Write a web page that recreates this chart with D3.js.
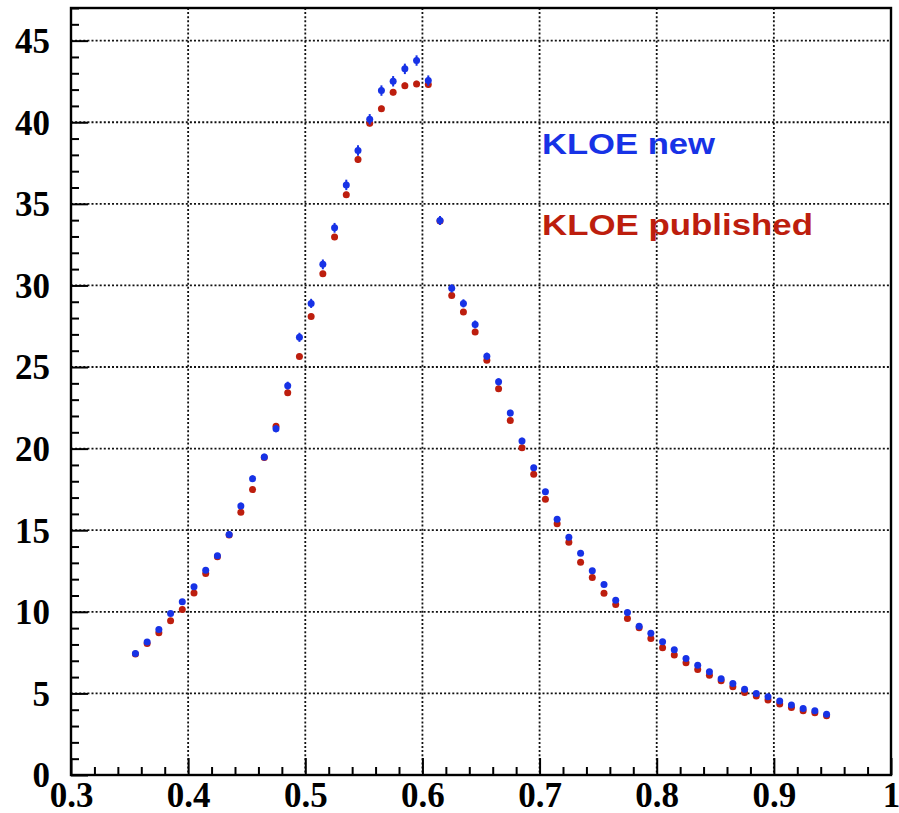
<!DOCTYPE html>
<html>
<head>
<meta charset="utf-8">
<script src="https://cdn.jsdelivr.net/npm/d3@7"></script>
<style>
  html, body { margin: 0; padding: 0; background: #fff; }
  svg { display: block; }
</style>
</head>
<body>
<svg id="chart" width="899" height="813"></svg>
<script>
// Bin centres (GeV) of the mass spectrum
const massBins = [
  0.355, 0.365, 0.375, 0.385, 0.395, 0.405, 0.415, 0.425, 0.435, 0.445,
  0.455, 0.465, 0.475, 0.485, 0.495, 0.505, 0.515, 0.525, 0.535, 0.545,
  0.555, 0.565, 0.575, 0.585, 0.595, 0.605, 0.615, 0.625, 0.635, 0.645,
  0.655, 0.665, 0.675, 0.685, 0.695, 0.705, 0.715, 0.725, 0.735, 0.745,
  0.755, 0.765, 0.775, 0.785, 0.795, 0.805, 0.815, 0.825, 0.835, 0.845,
  0.855, 0.865, 0.875, 0.885, 0.895, 0.905, 0.915, 0.925, 0.935, 0.945
];

// KLOE new analysis
const kloeNew = [
  7.45, 8.15, 8.92, 9.90, 10.61, 11.53, 12.55, 13.43, 14.73, 16.49,
  18.16, 19.49, 21.22, 23.86, 26.82, 28.90, 31.29, 33.53, 36.16, 38.27,
  40.18, 41.94, 42.51, 43.27, 43.78, 42.55, 33.98, 29.82, 28.90, 27.61,
  25.66, 24.09, 22.18, 20.46, 18.82, 17.35, 15.67, 14.57, 13.59, 12.51,
  11.67, 10.71, 9.96, 9.12, 8.69, 8.16, 7.67, 7.14, 6.73, 6.33,
  5.90, 5.61, 5.25, 5.00, 4.80, 4.53, 4.29, 4.08, 3.94, 3.73
];
const kloeNewErr = [
  0.12, 0.12, 0.12, 0.12, 0.12, 0.14, 0.14, 0.14, 0.15, 0.20,
  0.20, 0.20, 0.22, 0.24, 0.28, 0.28, 0.30, 0.30, 0.32, 0.32,
  0.32, 0.32, 0.32, 0.32, 0.32, 0.32, 0.28, 0.25, 0.25, 0.24,
  0.22, 0.22, 0.20, 0.20, 0.18, 0.18, 0.16, 0.16, 0.15, 0.14,
  0.13, 0.12, 0.12, 0.11, 0.11, 0.10, 0.10, 0.10, 0.10, 0.09,
  0.09, 0.09, 0.08, 0.08, 0.08, 0.08, 0.08, 0.07, 0.07, 0.07
];

// KLOE published result
const kloePublished = [
  7.42, 8.06, 8.71, 9.45, 10.14, 11.16, 12.35, 13.38, 14.70, 16.10,
  17.49, 19.45, 21.37, 23.42, 25.65, 28.10, 30.71, 32.96, 35.55, 37.71,
  39.94, 40.82, 41.84, 42.24, 42.35, 42.31, 33.95, 29.39, 28.37, 27.14,
  25.41, 23.67, 21.73, 20.06, 18.43, 16.90, 15.40, 14.27, 13.04, 12.10,
  11.14, 10.45, 9.59, 9.02, 8.37, 7.80, 7.35, 6.88, 6.47, 6.12,
  5.78, 5.41, 5.06, 4.84, 4.59, 4.35, 4.14, 3.94, 3.82, 3.63
];
const kloePublishedErr = [
  0.08, 0.08, 0.08, 0.08, 0.08, 0.09, 0.09, 0.09, 0.10, 0.12,
  0.12, 0.12, 0.13, 0.14, 0.16, 0.16, 0.18, 0.18, 0.19, 0.19,
  0.19, 0.19, 0.19, 0.19, 0.19, 0.19, 0.17, 0.15, 0.15, 0.14,
  0.13, 0.13, 0.12, 0.12, 0.11, 0.11, 0.10, 0.10, 0.09, 0.09,
  0.08, 0.08, 0.08, 0.07, 0.07, 0.07, 0.07, 0.06, 0.06, 0.06,
  0.06, 0.06, 0.05, 0.05, 0.05, 0.05, 0.05, 0.05, 0.05, 0.05
];

const xTickLabels = ["0.3", "0.4", "0.5", "0.6", "0.7", "0.8", "0.9", "1"];
const yTickLabels = ["0", "5", "10", "15", "20", "25", "30", "35", "40", "45"];
const legendLabels = ["KLOE new", "KLOE published"];

const xTicks = xTickLabels.map(Number);
const yTicks = yTickLabels.map(Number);

const BLUE = "#1732e6";
const RED = "#bd1e0e";

const frame = { left: 71, right: 891, top: 8, bottom: 775 };

const x = d3.scaleLinear().domain([0.3, 1.0]).range([frame.left, frame.right]);
const y = d3.scaleLinear().domain([0, 47]).range([frame.bottom, frame.top]);

const svg = d3.select("#chart");

// Dotted grid at the major ticks
const grid = svg.append("g")
  .attr("stroke", "#111")
  .attr("stroke-width", 1.8)
  .attr("stroke-dasharray", "2,2.1");
grid.selectAll("line.gx")
  .data(xTicks.filter(v => v > 0.3 && v < 1.0))
  .join("line")
  .attr("class", "gx")
  .attr("x1", d => x(d)).attr("x2", d => x(d))
  .attr("y1", frame.top).attr("y2", frame.bottom);
grid.selectAll("line.gy")
  .data(yTicks.filter(v => v > 0))
  .join("line")
  .attr("class", "gy")
  .attr("x1", frame.left).attr("x2", frame.right)
  .attr("y1", d => y(d)).attr("y2", d => y(d));

// Axes with inward ticks (major + minor)
const xAxisMinor = d3.axisBottom(x)
  .tickValues(d3.range(0.32, 1.0, 0.02).filter(v => Math.abs(v * 10 - Math.round(v * 10)) > 1e-6))
  .tickSize(-8).tickFormat("");
const xAxisMajor = d3.axisBottom(x)
  .tickValues(xTicks).tickSize(-17).tickPadding(7)
  .tickFormat((d, i) => xTickLabels[i]);
const yAxisMinor = d3.axisLeft(y)
  .tickValues(d3.range(1, 48, 1).filter(v => v % 5 !== 0))
  .tickSize(-8).tickFormat("");
const yAxisMajor = d3.axisLeft(y)
  .tickValues(yTicks).tickSize(-17).tickPadding(21)
  .tickFormat((d, i) => yTickLabels[i]);

function styleAxis(g) {
  g.select(".domain").remove();
  g.selectAll(".tick line").attr("stroke", "#000").attr("stroke-width", 2);
  g.selectAll(".tick text")
    .attr("fill", "#000")
    .style("font-family", "'Liberation Serif', 'Times New Roman', serif")
    .style("font-weight", "bold")
    .style("font-size", "35px");
}

svg.append("g").attr("transform", `translate(0,${frame.bottom})`).call(xAxisMinor).call(styleAxis);
svg.append("g").attr("transform", `translate(0,${frame.bottom})`).call(xAxisMajor).call(styleAxis)
  .selectAll(".tick text").attr("dy", "0.7em");
svg.append("g").attr("transform", `translate(${frame.left},0)`).call(yAxisMinor).call(styleAxis);
svg.append("g").attr("transform", `translate(${frame.left},0)`).call(yAxisMajor).call(styleAxis)
  .selectAll(".tick text").attr("dy", "0.34em");

// Plot frame
svg.append("rect")
  .attr("x", frame.left).attr("y", frame.top)
  .attr("width", frame.right - frame.left).attr("height", frame.bottom - frame.top)
  .attr("fill", "none").attr("stroke", "#000").attr("stroke-width", 2.4);

// Data points with vertical error bars
function drawSeries(values, errors, color) {
  const pts = massBins.map((m, i) => ({ m, v: values[i], e: errors[i] }));
  const g = svg.append("g");
  g.selectAll("line")
    .data(pts)
    .join("line")
    .attr("x1", d => x(d.m)).attr("x2", d => x(d.m))
    .attr("y1", d => y(d.v + d.e)).attr("y2", d => y(d.v - d.e))
    .attr("stroke", color).attr("stroke-width", 2);
  g.selectAll("circle")
    .data(pts)
    .join("circle")
    .attr("cx", d => x(d.m)).attr("cy", d => y(d.v))
    .attr("r", 3.5)
    .attr("fill", color);
}
drawSeries(kloePublished, kloePublishedErr, RED);
drawSeries(kloeNew, kloeNewErr, BLUE);

// Legend labels
const legend = [
  { text: legendLabels[0], color: BLUE, base: 154, width: 173 },
  { text: legendLabels[1], color: RED, base: 235, width: 271 }
];
svg.append("g").selectAll("text")
  .data(legend)
  .join("text")
  .attr("x", 542)
  .attr("y", d => d.base)
  .attr("fill", d => d.color)
  .attr("textLength", d => d.width)
  .attr("lengthAdjust", "spacingAndGlyphs")
  .style("font-family", "'Liberation Sans', Arial, sans-serif")
  .style("font-weight", "bold")
  .style("font-size", "29px")
  .text(d => d.text);
</script>
</body>
</html>
